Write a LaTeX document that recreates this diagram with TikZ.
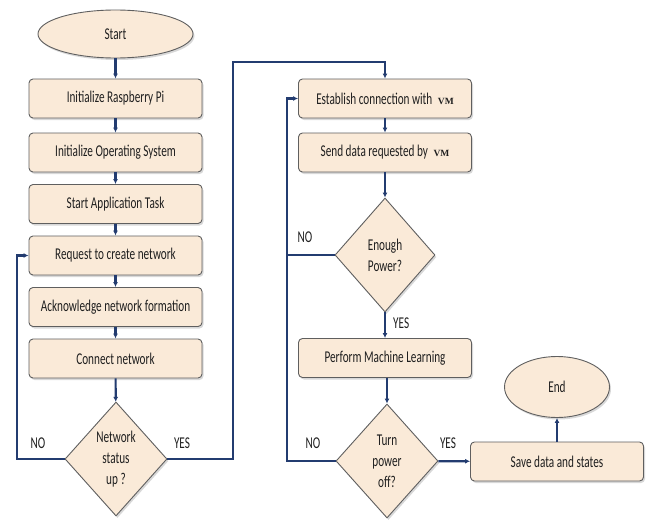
\documentclass[tikz,border=0pt]{standalone}
\usepackage{fontspec}
\setmainfont{Carlito}[FakeStretch=0.68]
\newfontfamily\vmfont{Liberation Serif}
\usetikzlibrary{shapes.geometric,arrows.meta,shadows}
\definecolor{boxfill}{RGB}{250,234,216}
\definecolor{boxline}{RGB}{95,95,95}
\definecolor{flow}{RGB}{35,60,112}
\newcommand{\vmtext}{\hspace{3pt}{\vmfont\bfseries\fontsize{9.5}{10}\selectfont VM}}
\tikzset{
  basefont/.style={font=\fontsize{16.5}{21}\selectfont, text=black!88},
  stepbox/.style={basefont, rectangle, rounded corners=4pt, draw=boxline, line width=0.9pt,
    fill=boxfill, minimum width=173pt, minimum height=39pt, inner sep=0pt,
    drop shadow={shadow xshift=1.5pt, shadow yshift=-2pt, opacity=0.3}},
  terminal/.style={basefont, ellipse, draw=boxline, line width=0.9pt, fill=boxfill, inner sep=0pt,
    drop shadow={shadow xshift=1.5pt, shadow yshift=-2pt, opacity=0.3}},
  decision/.style={basefont, diamond, draw=boxline, line width=0.9pt, fill=boxfill, inner sep=0pt,
    aspect=0.89, minimum width=102pt, minimum height=114pt, align=center,
    drop shadow={shadow xshift=1.5pt, shadow yshift=-2pt, opacity=0.3}},
  flowline/.style={draw=flow, line width=2.2pt},
  flowarrow/.style={flowline, -{Latex[length=5pt,width=5pt]}},
  lbl/.style={basefont, inner sep=0pt}
}
\begin{document}
\begin{tikzpicture}[x=1pt,y=-1pt]
\fill[white] (0,0) rectangle (650,519);
\useasboundingbox (0,0) rectangle (650,519);

% left column
\node[terminal, minimum width=155pt, minimum height=48pt] (start) at (115.5,34) {Start};
\node[stepbox] (b1) at (115.5,98.5) {Initialize Raspberry Pi};
\node[stepbox] (b2) at (115.5,152.5) {Initialize Operating System};
\node[stepbox] (b3) at (115.5,204) {Start Application Task};
\node[stepbox] (b4) at (115.5,255.5) {Request to create network};
\node[stepbox] (b5) at (115.5,307) {Acknowledge network formation};
\node[stepbox] (b6) at (115.5,358.5) {Connect network};
\node[decision] (d1) at (116,459) {Network\\status\\up ?};

% right column
\node[stepbox] (r1) at (385,98.5) {Establish connection with \vmtext};
\node[stepbox] (r2) at (385,152.5) {Send data requested by \vmtext};
\node[decision, minimum width=100pt] (d2) at (385,255) {Enough\\Power?};
\node[stepbox] (r3) at (385,358) {Perform Machine Learning};
\node[decision] (d3) at (387,461) {Turn\\power\\off?};
\node[stepbox] (save) at (557,461.5) {Save data and states};
\node[terminal, minimum width=105pt, minimum height=61pt] (end) at (557,387) {End};

% helper coordinates
\coordinate (noL) at (17,0);
\coordinate (yesR) at (233,62);
\coordinate (noR) at (287,0);

% straight arrows
\draw[flowarrow] (start) -- (b1);
\draw[flowarrow] (b1) -- (b2);
\draw[flowarrow] (b2) -- (b3);
\draw[flowarrow] (b3) -- (b4);
\draw[flowarrow] (b4) -- (b5);
\draw[flowarrow] (b5) -- (b6);
\draw[flowarrow] (b6) -- (d1);
\draw[flowarrow] (r1) -- (r2);
\draw[flowarrow] (r2) -- (d2);
\draw[flowarrow] (d2) -- (r3);
\draw[flowarrow] (r3.south -| d3.north) -- (d3.north);
\draw[flowarrow] (d3) -- (save);
\draw[flowarrow] (save) -- (end);

% loops
\draw[flowarrow] (d1.west) -- (d1.west -| noL) |- (b4.west);
\draw[flowarrow] (d1.east) -- (d1.east -| yesR) -- (yesR) -| (r1.north);
\draw[flowarrow] (d2.west) -- (d2.west -| noR) |- (r1.west);
\draw[flowline] (d3.west) -- (d3.west -| noR) -- (d2.west -| noR);

% labels
\node[lbl] (l1) at (38,443) {NO};
\node[lbl] (l2) at (182,443) {YES};
\node[lbl] (l3) at (305,237) {NO};
\node[lbl, anchor=west] (l4) at (393,323) {YES};
\node[lbl] (l5) at (313,443) {NO};
\node[lbl] (l6) at (448,443) {YES};
\end{tikzpicture}
\end{document}
